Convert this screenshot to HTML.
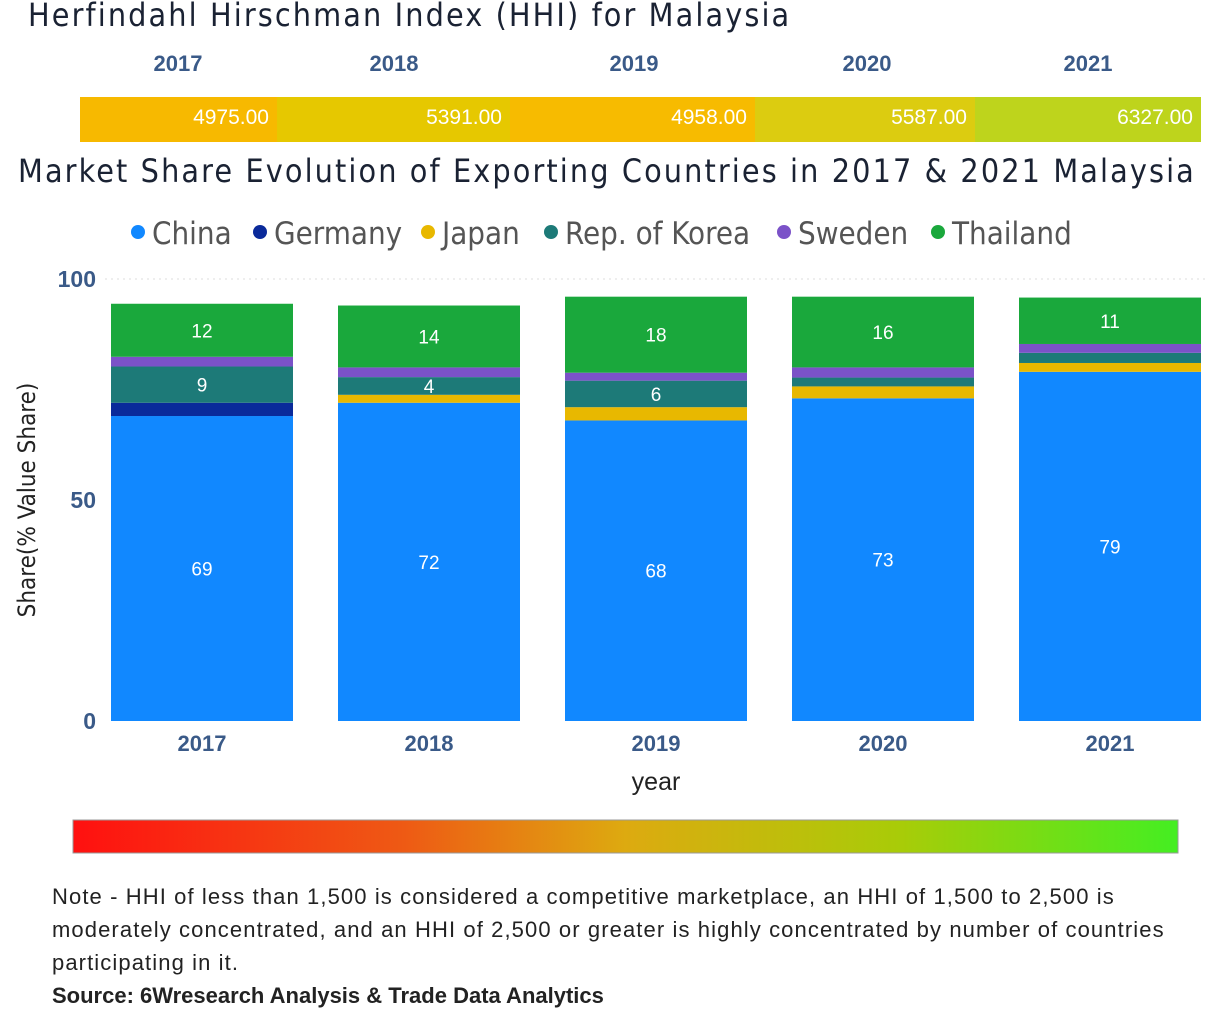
<!DOCTYPE html>
<html><head><meta charset="utf-8"><style>
body{margin:0;width:1219px;height:1019px;background:#fff;font-family:"Liberation Sans","DejaVu Sans",sans-serif;overflow:hidden;position:relative}
.abs{position:absolute}
</style></head><body>
<div class="abs" style="left:28px;top:-4px;font-size:32px;letter-spacing:2.1px;color:#1a2233;font-family:'DejaVu Sans Condensed','DejaVu Sans',sans-serif;white-space:nowrap">Herfindahl Hirschman Index (HHI) for Malaysia</div>
<svg class="abs" style="left:0;top:0" width="1219" height="1019" id="svg"></svg>
<div class="abs" style="left:18px;top:152px;font-size:32px;letter-spacing:2.1px;color:#1a2233;font-family:'DejaVu Sans Condensed','DejaVu Sans',sans-serif;white-space:nowrap">Market Share Evolution of Exporting Countries in 2017 &amp; 2021 Malaysia</div>
<div class="abs" style="left:52px;top:880px;width:1150px;font-size:22px;letter-spacing:1.1px;line-height:33px;color:#222">Note - HHI of less than 1,500 is considered a competitive marketplace, an HHI of 1,500 to 2,500 is moderately concentrated, and an HHI of 2,500 or greater is highly concentrated by number of countries participating in it.</div>
<div class="abs" style="left:52px;top:983px;font-size:22px;font-weight:bold;color:#222">Source: 6Wresearch Analysis &amp; Trade Data Analytics</div>
<script>
const years=["2017","2018","2019","2020","2021"];
const hhi=[4975,5391,4958,5587,6327];
const hhiColors=["#f7b900","#e6c800","#f7bb00","#dccc10","#bed41c"];
const series=["China","Germany","Japan","Rep. of Korea","Sweden","Thailand"];
const colors=["#1188ff","#0a2a9a","#e8b800","#1d7a78","#7b52c8","#1aa83c"];
const china=[69,72,68,73,79];
const germany=[3,0,0,0,0];
const japan=[0,1.8,3,2.7,2];
const korea=[8.2,4,6,2,2.3];
const sweden=[2.2,2.2,1.8,2.3,2];
const thailand=[12,14,17.2,16,10.5];
const labels=[["69","","","9","","12"],["72","","","4","","14"],["68","","","6","","18"],["73","","","","","16"],["79","","","","","11"]];
const data=[china,germany,japan,korea,sweden,thailand];
const NS="http://www.w3.org/2000/svg";
const svg=document.getElementById('svg');
function mk(t,a,txt){const e=document.createElementNS(NS,t);for(const k in a)e.setAttribute(k,a[k]);if(txt!==undefined)e.textContent=txt;svg.appendChild(e);return e;}
const bounds=[80,277,510,755,975,1201];
const yearCx=[178,394,634,867,1088];
for(let i=0;i<5;i++){
 const r=mk('rect',{x:bounds[i],y:97,width:bounds[i+1]-bounds[i],height:45,fill:hhiColors[i]});
 
 
 const t=mk('text',{x:bounds[i+1]-8,y:124,'text-anchor':'end','font-size':21,fill:'#fff'},hhi[i].toFixed(2));
 
 
 const y=mk('text',{x:yearCx[i],y:71,'text-anchor':'middle','font-size':22,'font-weight':'bold',fill:'#3a5a88'},years[i]);
 
 
}
const legX=[130,252,420,543,776,930];
for(let i=0;i<6;i++){
 const c=mk('circle',{cx:legX[i]+8,cy:232,r:7,fill:colors[i]});
 
 
 const t=mk('text',{x:legX[i]+22,y:244,'font-size':31,fill:'#555','font-family':'DejaVu Sans Condensed, DejaVu Sans, sans-serif'},series[i]);
 
 
}
const y0=721,y100=279;
const Y=v=>y0-(y0-y100)*v/100;
const X=i=>111+227*i;
const bw=182;
for(const v of [0,50,100]){
 const t=mk('text',{x:96,y:Y(v)+8,'text-anchor':'end','font-size':23,'font-weight':'bold',fill:'#3a5a88'},v);
 
 
}
const gl=mk('line',{x1:105,x2:1205,y1:Y(100),y2:Y(100),stroke:'#ddd','stroke-dasharray':'2 4'});


const ya=mk('text',{x:0,y:0,transform:'translate(35,500) rotate(-90)','text-anchor':'middle','font-size':24,fill:'#222','font-family':'DejaVu Sans Condensed, DejaVu Sans, sans-serif'},'Share(% Value Share)');


const xa=mk('text',{x:656,y:790,'text-anchor':'middle','font-size':25,fill:'#222'},'year');


for(let i=0;i<5;i++){
 let acc=0;
 for(let s=0;s<6;s++){
  const v=data[s][i];
  if(v>0){
   const r=mk('rect',{x:X(i),y:Y(acc+v),width:bw,height:Y(acc)-Y(acc+v),fill:colors[s]});
   
   
   const lb=labels[i][s];
   if(lb!==""){
    const t=mk('text',{x:X(i)+bw/2,y:(Y(acc)+Y(acc+v))/2+7,'text-anchor':'middle','font-size':19,fill:'#fff'},lb);
    
    
   }
  }
  acc+=v;
 }
 const t=mk('text',{x:X(i)+bw/2,y:751,'text-anchor':'middle','font-size':22,'font-weight':'bold',fill:'#3a5a88'},years[i]);
 
 
}
const defs=mk('defs',{});
const g=document.createElementNS(NS,'linearGradient');g.setAttribute('id','gr');
[['0','#ff1010'],['0.3','#ee5a14'],['0.5','#ddaa10'],['0.75','#a8cc08'],['1','#44ee22']].forEach(([o,c])=>{const s=document.createElementNS(NS,'stop');s.setAttribute('offset',o);s.setAttribute('stop-color',c);g.appendChild(s);});
defs.appendChild(g);
const gb=mk('rect',{x:73,y:820,width:1105,height:33,fill:'url(#gr)',stroke:'#999','stroke-width':1});


</script>
</body></html>
